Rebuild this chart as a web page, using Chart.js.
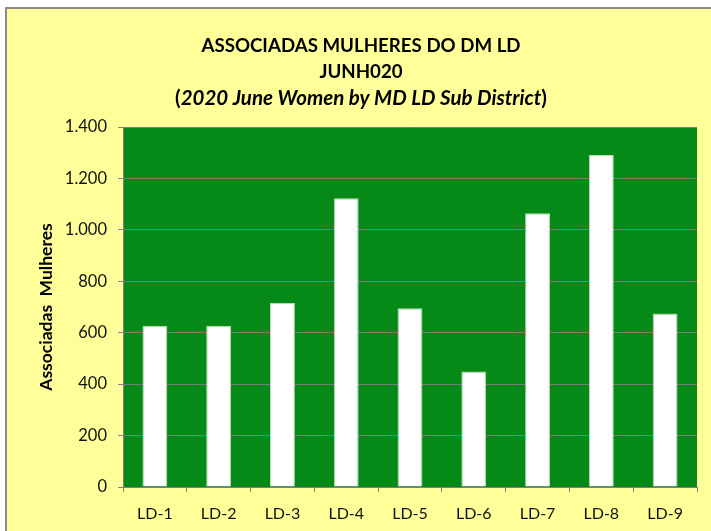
<!DOCTYPE html>
<html><head><meta charset="utf-8">
<script src="https://cdn.jsdelivr.net/npm/chart.js@4"></script>
<style>
html,body{margin:0;padding:0;background:#fff;width:711px;height:531px;overflow:hidden}
#frame{position:absolute;left:5px;top:7px;width:706px;height:524px;background:#FFFF99;border-left:2px solid #8c8c8c;border-top:2px solid #8c8c8c;box-sizing:border-box}
#wrap{position:absolute;left:0;top:0;width:711px;height:531px}
</style></head><body>
<div id="frame"></div>
<div id="wrap"><canvas id="c" width="711" height="531"></canvas></div>
<script>
const categories = ['LD-1','LD-2','LD-3','LD-4','LD-5','LD-6','LD-7','LD-8','LD-9'];
const womenValues = [627, 627, 716, 1123, 695, 449, 1065, 1291, 675];
const yTickValues = [0, 200, 400, 600, 800, 1000, 1200, 1400];
const titleLines = ['ASSOCIADAS MULHERES DO DM LD', 'JUNH020'];
const subtitleParts = ['(', '2020 June Women by MD LD Sub District', ')'];
const yAxisTitle = 'Associadas  Mulheres';

const FAMILY = 'Lato, "Open Sans", sans-serif';

const fmt = v => String(v).replace(/\B(?=(\d{3})+(?!\d))/g, '.');

const plotBg = {
  id: 'plotBg',
  beforeDraw(chart) {
    const {ctx, chartArea: a} = chart;
    ctx.save(); ctx.fillStyle = '#058A18';
    ctx.fillRect(a.left, a.top, a.right - a.left, a.bottom - a.top);
    ctx.restore();
  }
};
const titlePlugin = {
  id: 'mixedTitle',
  afterDraw(chart) {
    const ctx = chart.ctx; const cx = 361;
    ctx.save(); ctx.fillStyle = '#000'; ctx.textBaseline = 'middle';
    ctx.font = 'bold 18.7px ' + FAMILY;
    ctx.textAlign = 'center';
    ctx.fillText(titleLines[0], cx, 46);
    ctx.fillText(titleLines[1], cx, 72);
    ctx.textAlign = 'left';
    const f1 = 'bold 20.5px ' + FAMILY, f2 = 'italic bold 20.5px ' + FAMILY;
    const fonts = [f1, f2, f1];
    const widths = subtitleParts.map((p, i) => { ctx.font = fonts[i]; return ctx.measureText(p).width; });
    let x = cx - widths.reduce((s, w) => s + w, 0) / 2;
    subtitleParts.forEach((p, i) => { ctx.font = fonts[i]; ctx.fillText(p, x, 98); x += widths[i]; });
    ctx.restore();
  }
};

new Chart(document.getElementById('c'), {
  type: 'bar',
  data: {
    labels: categories,
    datasets: [{
      data: womenValues,
      backgroundColor: '#FFFFFF',
      borderColor: '#B8DDB8',
      borderWidth: 1,
      barPercentage: 0.39,
      categoryPercentage: 1
    }]
  },
  options: {
    responsive: false,
    animation: false,
    layout: { padding: { top: 127, right: 14, bottom: 0, left: 0 } },
    plugins: { legend: { display: false }, tooltip: { enabled: false }, title: { display: false } },
    scales: {
      x: {
        afterFit(s) { s.height = 44; },
        grid: { offset: true, drawOnChartArea: false, drawTicks: true, tickLength: 5, color: '#808080' },
        border: { display: true, color: '#808080' },
        ticks: { color: '#111', padding: 12, font: { family: FAMILY, size: 16 } }
      },
      y: {
        min: 0, max: 1400,
        afterFit(s) { s.width = 123; },
        afterBuildTicks(s) { s.ticks = yTickValues.map(v => ({ value: v })); },
        grid: { color: '#7a7a7a', tickLength: 5, drawTicks: true, tickColor: '#808080' },
        border: { display: true, color: '#808080' },
        ticks: { color: '#111', padding: 11, font: { family: FAMILY, size: 16.5 }, callback: v => fmt(v) },
        title: { display: true, text: yAxisTitle, color: '#000', padding: { top: 36, bottom: 0 }, font: { family: FAMILY, size: 17.5, weight: 'bold' } }
      }
    }
  },
  plugins: [plotBg, titlePlugin]
});
</script>
</body></html>
